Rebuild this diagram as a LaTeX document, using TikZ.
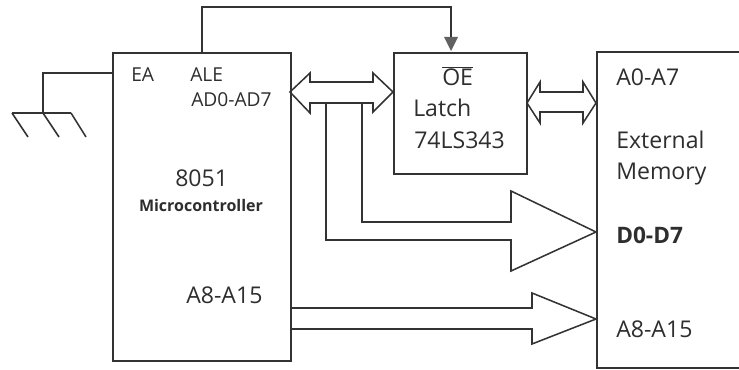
\documentclass[tikz,border=0pt]{standalone}
\usepackage{fontspec}
\setmainfont{Open Sans}
\usetikzlibrary{arrows.meta}
\definecolor{ink}{HTML}{333333}
\definecolor{txt}{HTML}{2E2E2E}
\tikzset{
  wire/.style={draw=ink,line width=1.15pt,line join=miter},
  blockbox/.style={draw=ink,line width=1.15pt,anchor=north west,inner sep=0pt},
  lab/.style={text=txt,font=\fontsize{14.4}{16}\selectfont,anchor=base west,inner sep=0pt},
  biglab/.style={text=txt,font=\fontsize{17.3}{19}\selectfont,anchor=base west,inner sep=0pt},
}
\begin{document}
\begin{tikzpicture}[x=0.75pt,y=-0.75pt]
\useasboundingbox[fill=white] (0,0) rectangle (739,370);
% blocks
\node[blockbox,minimum width=133.5pt,minimum height=231pt] (mcu) at (112,52) {};
\node[blockbox,minimum width=99.75pt,minimum height=90.75pt] (latch) at (393,52) {};
\coordinate (memtl) at (745,52);
\coordinate (memtr) at (597,52);
\coordinate (membl) at (597,368);
\coordinate (membr) at (745,368);
\draw[wire] (memtl) -- (memtr) -- (membl) -- (membr);
% labels
\node[lab] (ea) at (131,82) {EA};
\node[lab] (ale) at (190,82) {ALE};
\node[lab] (ad) at (191,107) {AD0-AD7};
\node[biglab] (n8051) at (175,187) {8051};
\node[text=txt,font=\fontsize{12}{14}\bfseries\selectfont,anchor=base,inner sep=0pt] (uc) at (201,212) {Microcontroller};
\node[biglab] (a8m) at (186,304) {A8-A15};
\node[biglab] (oe) at (442,86) {$\overline{\mbox{OE}}$};
\node[biglab] (lt) at (413,117) {Latch};
\node[biglab] (ls) at (414,149) {74LS343};
\node[biglab] (a0) at (616,86) {A0-A7};
\node[biglab] (ext) at (616,149) {External};
\node[biglab] (mem) at (616,180) {Memory};
\node[text=txt,font=\fontsize{17}{19}\bfseries\selectfont,anchor=base west,inner sep=0pt] (d0) at (616,244) {D0-D7};
\node[biglab] (a8x) at (616,338) {A8-A15};
% ALE to OE
\coordinate (aleup) at (202,7);
\coordinate (oeup) at (451,7);
\coordinate (alefoot) at (202,52);
\coordinate (oetip) at (451,51);
\draw[wire] (alefoot) -- (aleup) -- (oeup) -- (451,38);
\fill[fill=black!62] (oetip) -- (444,37) -- (458,37) -- cycle;
% ground
\coordinate (gndpin) at (112,73);
\coordinate (gnda) at (43,73);
\coordinate (gndb) at (43,113);
\coordinate (gndl) at (12,113);
\coordinate (gndr) at (71,113);
\draw[wire] (gndpin) -- (gnda) -- (gndb);
\draw[wire] (gndl) -- (gndr);
\draw[wire] (gndl) -- (28,137);
\draw[wire] (gndb) -- (59,137);
\draw[wire] (gndr) -- (86,137);
% MCU <-> latch bus
\coordinate (btipl) at (290,92);
\coordinate (btipr) at (393,92);
\draw[wire] (btipl) -- (310,73) -- (310,82) -- (373,82) -- (373,73) -- (btipr)
  -- (373,112) -- (373,103) -- (362,103) -- (326,103) -- (310,103) -- (310,113) -- cycle;
% latch <-> memory bus
\coordinate (ctipl) at (527,103);
\coordinate (ctipr) at (596,103);
\draw[wire] (ctipl) -- (540,82) -- (540,92) -- (583,92) -- (583,82) -- (ctipr)
  -- (583,123) -- (583,112) -- (540,112) -- (540,123) -- cycle;
% data bus into memory
\coordinate (dtip) at (596,232);
\draw[wire] (362,103) -- (362,222) -- (511,222) -- (511,191) -- (dtip)
  -- (511,271) -- (511,240) -- (326,240) -- (326,103);
% address bus into memory
\coordinate (atip) at (596,319);
\draw[wire] (290,308) -- (532,308) -- (532,293) -- (atip)
  -- (532,344) -- (532,329) -- (290,329);
\end{tikzpicture}
\end{document}
